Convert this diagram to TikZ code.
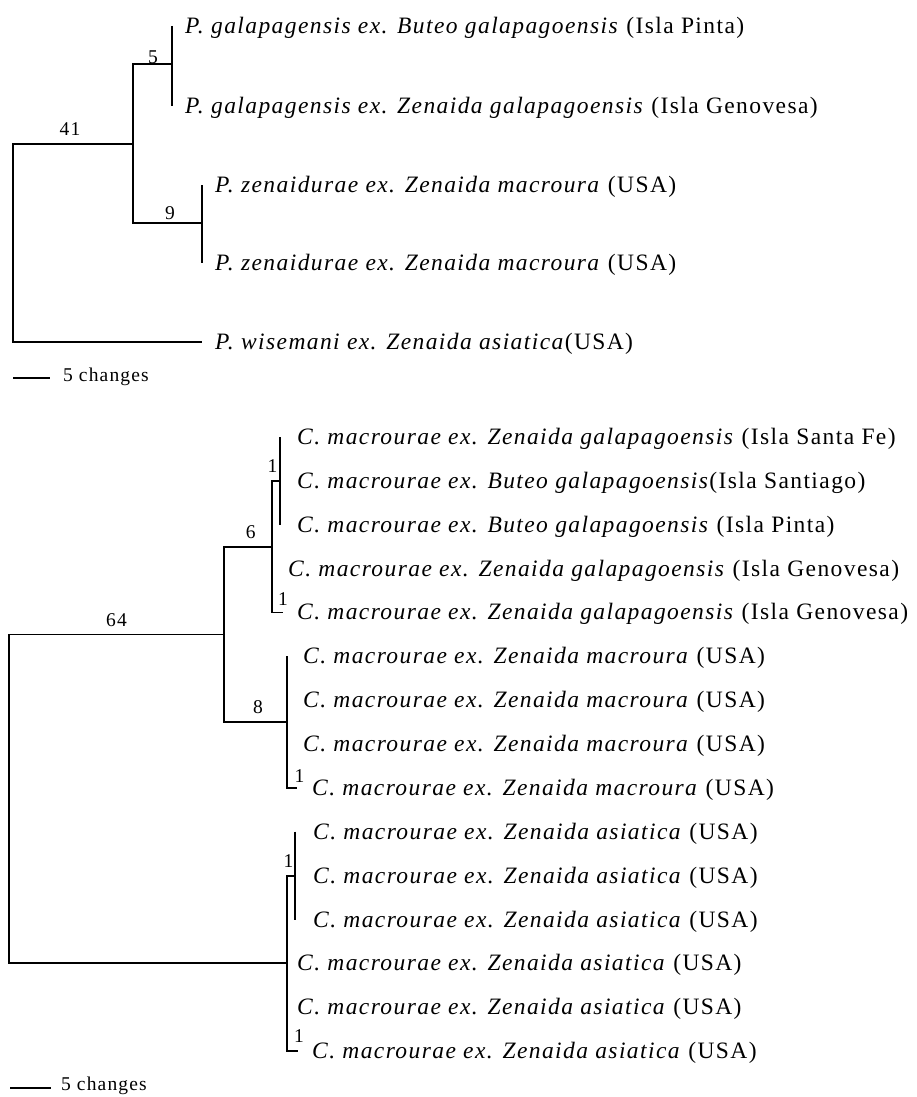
\documentclass[tikz,border=0pt]{standalone}
\usepackage{fontspec}
\setmainfont{Liberation Serif}[LetterSpace=6]

\begin{document}
\begin{tikzpicture}[x=1pt,y=-1pt,
  branch/.style={line width=1.8pt},
  leaf/.style={anchor=base west,inner sep=0pt,yshift=-7.5pt,font=\fontsize{23.5}{25}\selectfont},
  supp/.style={inner sep=0pt,font=\fontsize{19.5}{21}\selectfont}]
\useasboundingbox (0,0) rectangle (917,1097);

\coordinate (rootP) at (13,243);
\coordinate (p41) at (133,144);
\coordinate (p5) at (171.7,64);
\coordinate (p9) at (202,222.7);
\coordinate (pa) at (171.7,26);
\coordinate (pb) at (171.7,106);
\coordinate (pc) at (202,185);
\coordinate (pd) at (202,263);
\coordinate (pe) at (202,342);
\draw[branch] (p41) -| (rootP) |- (pe);
\draw[branch] (p5) -| (p41) |- (p9);
\draw[branch] (pa) -- (pb);
\draw[branch] (pc) -- (pd);
\node[leaf] (Pa) at (185,26) {\textit{P. galapagensis ex. Buteo galapagoensis} (Isla Pinta)};
\node[leaf] (Pb) at (185,106) {\textit{P. galapagensis ex. Zenaida galapagoensis} (Isla Genovesa)};
\node[leaf] (Pc) at (215,185) {\textit{P. zenaidurae ex. Zenaida macroura} (USA)};
\node[leaf] (Pd) at (215,263) {\textit{P. zenaidurae ex. Zenaida macroura} (USA)};
\node[leaf] (Pe) at (215,342) {\textit{P. wisemani ex. Zenaida asiatica}(USA)};
\node[supp] (s41) at (70,129) {41};
\node[supp] (s5) at (153,57.5) {5};
\node[supp] (s9) at (170,213.5) {9};
\coordinate (barPa) at (13,378);
\coordinate (barPb) at (50,378);
\draw[branch] (barPa) -- (barPb);
\node[supp,anchor=west] (barPt) at (63,377) {5 changes};

\coordinate (rootC) at (9,800);
\coordinate (c64) at (224,634.5);
\coordinate (c6) at (272,546.6);
\coordinate (c1a) at (280,480.9);
\coordinate (c8) at (287,722.1);
\coordinate (cAs) at (287,963.3);
\coordinate (c1b) at (295,875.6);
\coordinate (ca) at (280,437);
\coordinate (cc) at (280,524.7);
\coordinate (ce) at (283,612.4);
\coordinate (cf) at (287,656.3);
\coordinate (ci) at (297,787.9);
\coordinate (cj) at (295,831.7);
\coordinate (cl) at (295,919.5);
\coordinate (co) at (297.5,1051);
\draw[branch] (c64) -| (rootC) |- (cAs);
\draw[branch] (c6) -| (c64) |- (c8);
\draw[branch] (c1a) -| (c6) |- (ce);
\draw[branch] (ca) -- (cc);
\draw[branch] (cf) -- (c8) |- (ci);
\draw[branch] (c1b) -| (cAs) |- (co);
\draw[branch] (cj) -- (cl);
\node[leaf] (Ca) at (297,437) {\textit{C. macrourae ex. Zenaida galapagoensis} (Isla Santa Fe)};
\node[leaf] (Cb) at (297,480.9) {\textit{C. macrourae ex. Buteo galapagoensis}(Isla Santiago)};
\node[leaf] (Cc) at (297,524.7) {\textit{C. macrourae ex. Buteo galapagoensis} (Isla Pinta)};
\node[leaf] (Cd) at (288,568.6) {\textit{C. macrourae ex. Zenaida galapagoensis} (Isla Genovesa)};
\node[leaf] (Ce) at (297,612.4) {\textit{C. macrourae ex. Zenaida galapagoensis} (Isla Genovesa)};
\node[leaf] (Cf) at (303,656.3) {\textit{C. macrourae ex. Zenaida macroura} (USA)};
\node[leaf] (Cg) at (303,700.2) {\textit{C. macrourae ex. Zenaida macroura} (USA)};
\node[leaf] (Ch) at (303,744.0) {\textit{C. macrourae ex. Zenaida macroura} (USA)};
\node[leaf] (Ci) at (312,787.9) {\textit{C. macrourae ex. Zenaida macroura} (USA)};
\node[leaf] (Cj) at (313,831.7) {\textit{C. macrourae ex. Zenaida asiatica} (USA)};
\node[leaf] (Ck) at (313,875.6) {\textit{C. macrourae ex. Zenaida asiatica} (USA)};
\node[leaf] (Cl) at (313,919.5) {\textit{C. macrourae ex. Zenaida asiatica} (USA)};
\node[leaf] (Cm) at (297,963.3) {\textit{C. macrourae ex. Zenaida asiatica} (USA)};
\node[leaf] (Cn) at (297,1007.2) {\textit{C. macrourae ex. Zenaida asiatica} (USA)};
\node[leaf] (Co) at (312,1051) {\textit{C. macrourae ex. Zenaida asiatica} (USA)};
\node[supp] (s64) at (116.5,620) {64};
\node[supp] (s6) at (250.7,532) {6};
\node[supp] (s8) at (258,707.5) {8};
\node[supp] (s1a) at (272.5,466.5) {1};
\node[supp] (s1e) at (283,599) {1};
\node[supp] (s1i) at (299.5,776.5) {1};
\node[supp] (s1b) at (288.5,861) {1};
\node[supp] (s1o) at (299,1036.5) {1};
\coordinate (barCa) at (10,1088);
\coordinate (barCb) at (51,1088);
\draw[branch] (barCa) -- (barCb);
\node[supp,anchor=west] (barCt) at (61,1086) {5 changes};
\end{tikzpicture}
\end{document}
